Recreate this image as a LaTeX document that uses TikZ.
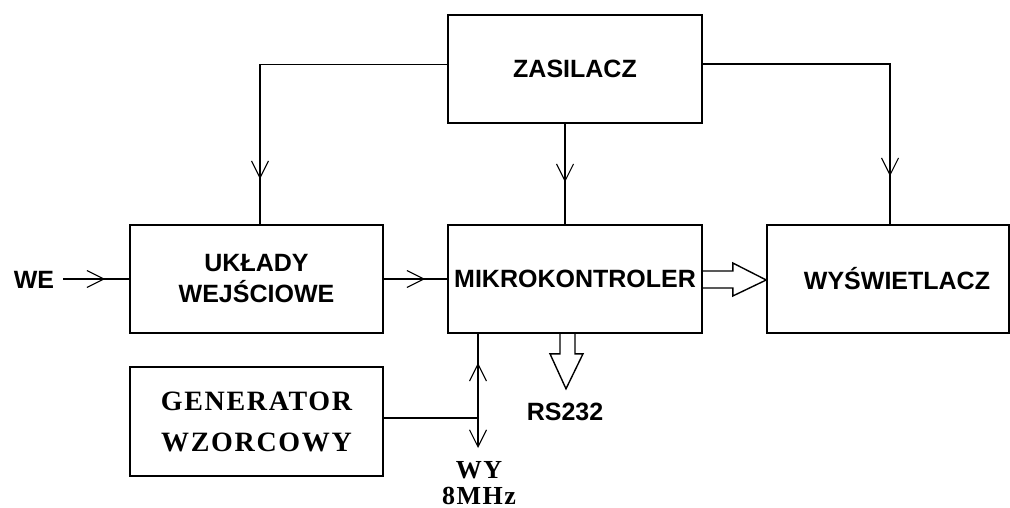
\documentclass[tikz,border=0pt]{standalone}
\usepackage{fontspec}
\setmainfont{Liberation Serif}
\setsansfont{Liberation Sans}
\newfontfamily\spacedserif[LetterSpace=6]{Liberation Serif}
\usetikzlibrary{arrows.meta,decorations.markings,calc}
\begin{document}
\begin{tikzpicture}[x=1pt,y=1pt,
  box/.style={draw,line width=1.6pt,minimum height=108pt,inner sep=0pt},
  sanstxt/.style={font=\sffamily\bfseries\fontsize{25}{31}\selectfont,align=center},
  seriftxt/.style={font=\spacedserif\bfseries\fontsize{28}{41}\selectfont,align=center},
  conn/.style={line width=1.6pt},
  barb/.tip={Straight Barb[length=17pt,width=17pt,line width=1.1pt]},
  midarrow/.style={postaction={decorate},decoration={markings,mark=at position #1 with {\arrow{barb}}}},
  midarrowrev/.style={postaction={decorate},decoration={markings,mark=at position #1 with {\arrowreversed{barb}}}},
  fat/.style={line width=1.4pt,line join=miter}
]
\useasboundingbox (0,0) rectangle (1010,-508);
% boxes
\node[box,minimum width=254pt,sanstxt] (zas) at (575,-69) {ZASILACZ};
\node[box,minimum width=253pt,sanstxt] (uk) at (256.5,-279) {UKŁADY\\WEJŚCIOWE};
\node[box,minimum width=254pt,sanstxt] (mk) at (575,-279) {MIKROKONTROLER};
\node[box,minimum width=242pt,label={[sanstxt,xshift=9pt]center:WYŚWIETLACZ}] (ws) at (888,-279) {};
\node[box,minimum width=253pt,minimum height=109pt,seriftxt] (gen) at (256.5,-421.5) {GENERATOR\\WZORCOWY};
% free labels
\node[sanstxt,inner sep=0pt] (we) at (34,-280) {WE};
\node[sanstxt,inner sep=0pt] (rs) at (565,-412) {RS232};
\node[seriftxt,inner sep=0pt,font=\spacedserif\bfseries\fontsize{26}{26}\selectfont,anchor=north] (wy) at (479,-461) {WY\\8MHz};
\coordinate (wyend) at (478,-448);
% connectors from ZASILACZ
\draw[conn,midarrow=-45pt] ([yshift=4.5pt]zas.west) -| ([xshift=3.5pt]uk.north);
\draw[conn,midarrow=-42pt] ([xshift=-10pt]zas.south) -- ([xshift=-10pt]mk.north);
\draw[conn,midarrow=-48pt] ([yshift=5pt]zas.east) -| ([xshift=2pt]ws.north);
% input chain
\draw[conn,midarrow=-24pt] ([xshift=9pt]we.east |- uk.west) -- (uk.west);
\draw[conn,midarrow=-22pt] (uk.east) -- (mk.west);
% WY output line
\draw[conn,midarrowrev=29pt,-{barb}] ([xshift=-97pt]mk.south) -- (wyend);
\draw[conn] ([yshift=3.5pt]gen.east) -- ([yshift=3.5pt]gen.east -| wyend);
% fat arrow to display
\draw[fat] ([yshift=8pt]mk.east) -- ++(30,0) -- ++(0,8) -- ([yshift=-1pt]ws.west)
  -- ([xshift=30pt,yshift=-17pt]mk.east) -- ++(0,8) -- ([yshift=-9pt]mk.east);
% fat arrow RS232
\draw[fat] ([xshift=-15pt]mk.south) -- ++(0,-20) -- ++(-10,0) -- ++(16,-35) -- ++(17,35) -- ++(-8,0) -- (mk.south);
\end{tikzpicture}
\end{document}
